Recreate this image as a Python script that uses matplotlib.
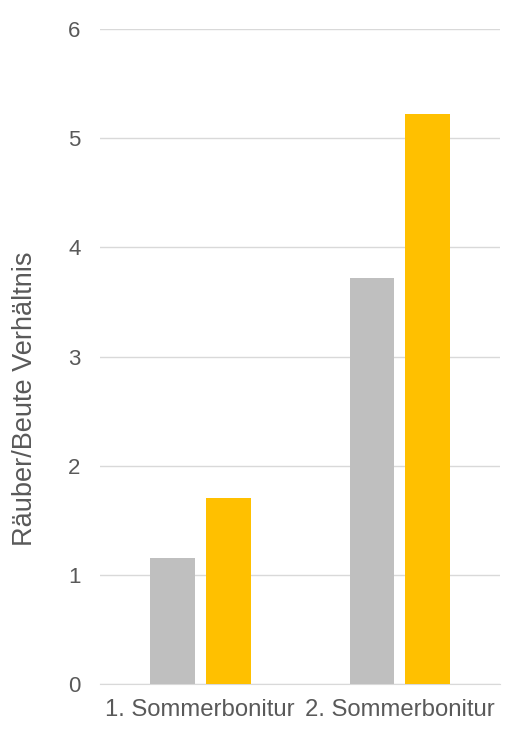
import matplotlib.pyplot as plt
import numpy as np

plt.rcParams['font.family'] = ['Liberation Sans', 'DejaVu Sans']

categories = ['1. Sommerbonitur', '2. Sommerbonitur']
series_grey = [1.15, 3.72]
series_gold = [1.70, 5.22]

fig = plt.figure(figsize=(5.06, 7.31), dpi=100)
ax = fig.add_axes([0.198, 0.0643, 0.79, 0.896])

x = np.arange(len(categories))
w = 0.225
ax.bar(x - 0.14, series_grey, w, color='#BFBFBF', zorder=3)
ax.bar(x + 0.14, series_gold, w, color='#FFC000', zorder=3)

ax.set_xlim(-0.5, 1.5)
ax.set_ylim(0, 6)
ax.set_yticks(range(7))
ax.set_xticks(x)
ax.set_xticklabels(categories, fontsize=17.2)
ax.grid(axis='y', color='#D9D9D9', linewidth=1, zorder=0)
for s in ['top', 'right', 'left']:
    ax.spines[s].set_visible(False)
ax.spines['bottom'].set_color('#D9D9D9')
ax.tick_params(axis='both', length=0, colors='#595959')
ax.tick_params(axis='y', pad=14, labelsize=16)
ax.tick_params(axis='x', pad=11)
ax.set_ylabel('Räuber/Beute Verhältnis', fontsize=19.5, color='#595959')
ax.yaxis.set_label_coords(-0.155, 0.435)

fig.savefig('out.png')
